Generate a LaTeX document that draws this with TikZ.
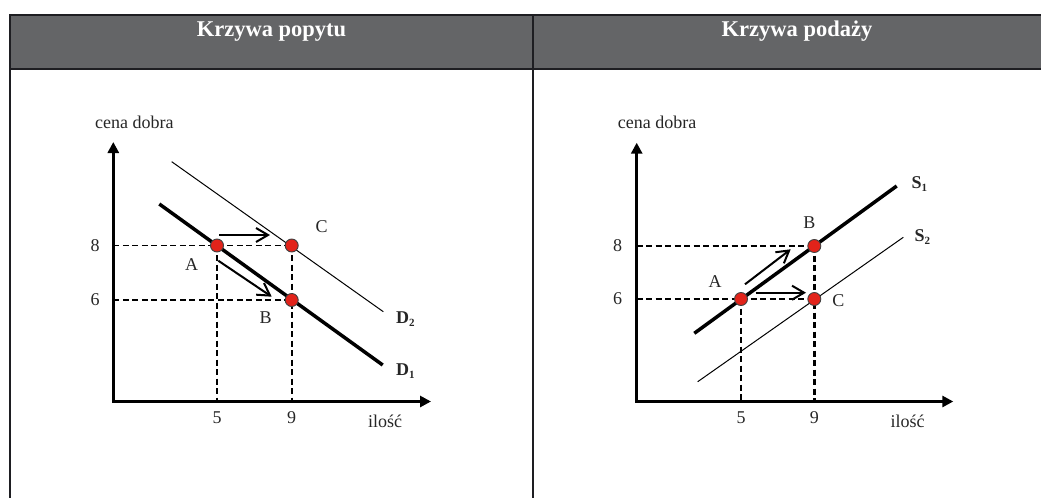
\documentclass[tikz,border=0pt]{standalone}
\usepackage{fontspec}
\setmainfont{Liberation Serif}
\usetikzlibrary{arrows.meta}
\definecolor{hdgray}{HTML}{646567}
\definecolor{framec}{HTML}{1E1E22}
\definecolor{dotred}{HTML}{E2231A}
\newcommand{\lbl}[2]{\textbf{#1}\raisebox{-0.35ex}{\fontsize{11}{11}\selectfont\textbf{#2}}}
\begin{document}
\begin{tikzpicture}[x=1pt,y=-1pt,
        every node/.style={font=\fontsize{18}{20}\selectfont, inner sep=0pt, text=black!85},
        head/.style={font=\fontsize{22.5}{24}\selectfont\bfseries, text=white, anchor=base},
        frame/.style={draw=framec, line width=2pt},
        axis/.style={line width=3pt, {Triangle[length=11pt,width=11pt]}-{Triangle[length=11pt,width=11pt]}},
        guide/.style={line width=1.2pt, dash pattern=on 6pt off 3.5pt},
        drop/.style={line width=2.4pt, dash pattern=on 6pt off 3.5pt},
        thickcurve/.style={line width=3.5pt},
        thincurve/.style={line width=1pt},
        move/.style={line width=2pt, -{Straight Barb[length=12pt,width=14pt]}},
        dot/.style={circle, fill=dotred, draw=black!75, line width=0.9pt, minimum size=13pt}
    ]
    \useasboundingbox (0,0) rectangle (1041,498);
    % table
    \fill[hdgray] (10,15) rectangle (1041,69);
    \draw[frame] (1041,15) -- (10,15) -- (10,498);
    \draw[frame] (10,69) -- (1041,69);
    \draw[frame] (533,15) -- (533,498);
    \node[head] (hd1) at (271.5,36.5) {Krzywa popytu};
    \node[head] (hd2) at (797,36.5) {Krzywa podaży};

    % demand
    \coordinate (O1) at (113.3,401.5);
    \coordinate (Y1) at (113.3,142);
    \coordinate (X1) at (431,401.5);
    \coordinate (A1) at (217,245.5);
    \coordinate (C1) at (291.7,245.5);
    \coordinate (B1) at (291.7,300);
    \coordinate (D1s) at (159.3,204);
    \coordinate (D1e) at (382.7,365);
    \coordinate (D2s) at (171.7,161.7);
    \coordinate (D2e) at (383.3,311.7);
    \draw[guide] (O1 |- C1) -- (C1);
    \draw[guide] (O1 |- B1) -- (B1);
    \draw[drop] (A1) -- (A1 |- O1);
    \draw[drop] (C1) -- (C1 |- O1);
    \draw[thincurve] (D2s) -- (D2e);
    \draw[thickcurve] (D1s) -- (D1e);
    \draw[axis] (Y1) -- (O1) -- (X1);
    \draw[move] (219.3,235) -- (270,235);
    \draw[move] (218.3,260.7) -- (271.7,296.7);
    \node[dot] (dA1) at (A1) {};
    \node[dot] (dC1) at (C1) {};
    \node[dot] (dB1) at (B1) {};
    \node[anchor=base west] (cena1) at (95,128.3) {cena dobra};
    \node (p81) at (95,245.5) {8};
    \node (p61) at (95,300) {6};
    \node (q51) at (A1 |- 0,418) {5};
    \node (q91) at (C1 |- 0,418) {9};
    \node (il1) at (385,421) {ilość};
    \node (lA1) at (191.7,265) {A};
    \node (lB1) at (265.7,318) {B};
    \node (lC1) at (321.7,227) {C};
    \node[anchor=west] (lD2) at (396,319) {\lbl{D}{2}};
    \node[anchor=west] (lD1) at (396,371.5) {\lbl{D}{1}};

    % supply
    \coordinate (O2) at (636.7,401.5);
    \coordinate (Y2) at (636.7,142.7);
    \coordinate (X2) at (953.3,401.5);
    \coordinate (A2) at (741,299);
    \coordinate (B2) at (814.3,246);
    \coordinate (C2) at (814.3,299);
    \coordinate (S1s) at (694.3,333.3);
    \coordinate (S1e) at (896.7,186);
    \coordinate (S2s) at (697.7,381.7);
    \coordinate (S2e) at (903.3,237.3);
    \draw[guide] (O2 |- B2) -- (B2);
    \draw[guide] (O2 |- C2) -- (C2);
    \draw[drop] (A2) -- (A2 |- O2);
    \draw[drop] (B2) -- (B2 |- O2);
    \draw[thincurve] (S2s) -- (S2e);
    \draw[thickcurve] (S1s) -- (S1e);
    \draw[axis] (Y2) -- (O2) -- (X2);
    \draw[move] (745,284.3) -- (790.7,249.3);
    \draw[move] (755.7,292.7) -- (806,292.7);
    \node[dot] (dA2) at (A2) {};
    \node[dot] (dB2) at (B2) {};
    \node[dot] (dC2) at (C2) {};
    \node[anchor=base west] (cena2) at (617.7,128.3) {cena dobra};
    \node (p82) at (617.7,246) {8};
    \node (p62) at (617.7,299) {6};
    \node (q52) at (A2 |- 0,418) {5};
    \node (q92) at (B2 |- 0,418) {9};
    \node (il2) at (907.5,421) {ilość};
    \node (lA2) at (715,281.7) {A};
    \node (lB2) at (809.3,222.7) {B};
    \node (lC2) at (838.3,301) {C};
    \node[anchor=west] (lS1) at (911.5,184) {\lbl{S}{1}};
    \node[anchor=west] (lS2) at (914.5,237) {\lbl{S}{2}};
\end{tikzpicture}
\end{document}
